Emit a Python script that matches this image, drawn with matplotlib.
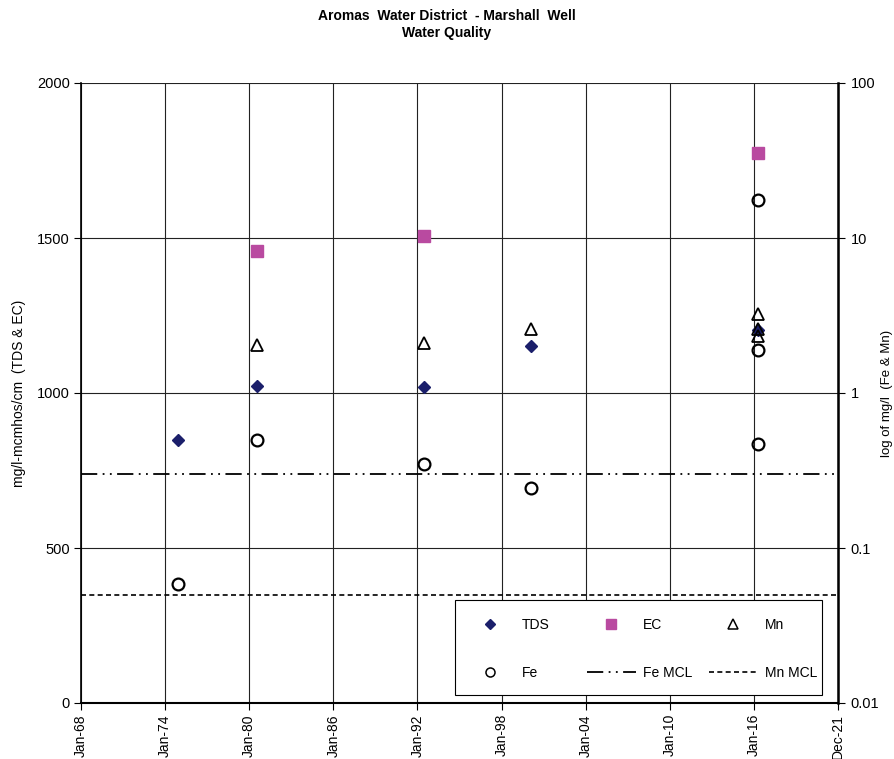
import datetime as dt
import matplotlib
matplotlib.use("Agg")
import matplotlib.pyplot as plt
import matplotlib.dates as mdates
from matplotlib.ticker import FixedLocator, FuncFormatter, NullLocator
from matplotlib.lines import Line2D
from matplotlib.patches import Rectangle

plt.rcParams['font.family'] = ['Liberation Sans', 'DejaVu Sans']

# ---- data ----
tds_dates = ["1974-12-01", "1980-08-01", "1992-06-15", "2000-02-15", "2016-04-15"]
tds_vals = [848, 1023, 1019, 1152, 1203]

ec_dates = ["1980-08-01", "1992-06-15", "2016-04-15"]
ec_vals = [1458, 1506, 1774]

mn_dates = ["1980-08-01", "1992-06-15", "2000-02-15", "2016-04-15", "2016-04-15", "2016-04-15"]
mn_vals = [2.04, 2.10, 2.59, 3.23, 2.60, 2.33]

fe_dates = ["1974-12-01", "1980-08-01", "1992-06-15", "2000-02-15", "2016-04-15", "2016-04-15", "2016-04-15"]
fe_vals = [0.059, 0.50, 0.348, 0.244, 17.6, 1.89, 0.469]

fe_mcl = 0.3
mn_mcl = 0.05

tick_dates = ["1968-01-01", "1974-01-01", "1980-01-01", "1986-01-01", "1992-01-01",
              "1998-01-01", "2004-01-01", "2010-01-01", "2016-01-01", "2021-12-31"]
tick_labels = ["Jan-68", "Jan-74", "Jan-80", "Jan-86", "Jan-92",
               "Jan-98", "Jan-04", "Jan-10", "Jan-16", "Dec-21"]

def d(s):
    return dt.datetime.strptime(s, "%Y-%m-%d")

fig = plt.figure(figsize=(8.94, 7.59), dpi=100)
ax = fig.add_axes([81/894, 56/759, 757/894, 620/759])
ax2 = ax.twinx()

xmin, xmax = d(tick_dates[0]), d(tick_dates[-1])
ax.set_xlim(xmin, xmax)
ax.set_ylim(0, 2000)
ax2.set_ylim(0.01, 100)
ax2.set_yscale('log')

# grid
ax.set_yticks([0, 500, 1000, 1500, 2000])
ax.set_xticks([mdates.date2num(d(t)) for t in tick_dates])
ax.set_xticklabels(tick_labels, rotation=90, fontsize=10)
ax.grid(True, color='#222222', linewidth=0.8)
ax.set_axisbelow(True)
ax.tick_params(axis='y', labelsize=10.5, direction='out', length=5, width=0.8, pad=3)
ax.tick_params(axis='x', direction='out', length=5, width=0.8, pad=3)

ax2.yaxis.set_major_locator(FixedLocator([0.01, 0.1, 1, 10, 100]))
ax2.yaxis.set_minor_locator(NullLocator())
ax2.yaxis.set_major_formatter(FuncFormatter(lambda v, p: f"{v:g}"))
ax2.tick_params(axis='y', labelsize=10.5, direction='out', length=5, width=0.8, pad=4)

for a in (ax, ax2):
    a.spines['top'].set_visible(False)
ax.spines['left'].set_linewidth(1.2)
ax.spines['bottom'].set_linewidth(1.5)
ax2.spines['right'].set_linewidth(1.8)
ax2.spines['left'].set_visible(False)
ax2.spines['bottom'].set_visible(False)

# MCL lines
femcl_ls = (0, (9, 3, 1, 3, 1, 3))
mnmcl_ls = (0, (3, 2))
ax2.plot([xmin, xmax], [fe_mcl, fe_mcl], color='black', lw=1.3,
         linestyle=femcl_ls, zorder=2)
ax2.plot([xmin, xmax], [mn_mcl, mn_mcl], color='black', lw=1.2,
         linestyle=mnmcl_ls, zorder=2)

# data
ax.plot([d(s) for s in tds_dates], tds_vals, linestyle='none', marker='D',
        markersize=6.5, color='#1b1f6b', zorder=5)
ax.plot([d(s) for s in ec_dates], ec_vals, linestyle='none', marker='s',
        markersize=8, color='#b94aa0', zorder=5)
ax2.plot([d(s) for s in mn_dates], mn_vals, linestyle='none', marker='^',
         markersize=8, markerfacecolor='none', markeredgecolor='black',
         markeredgewidth=1.3, zorder=5)
ax2.plot([d(s) for s in fe_dates], fe_vals, linestyle='none', marker='o',
         markersize=8.5, markerfacecolor='none', markeredgecolor='black',
         markeredgewidth=1.6, zorder=5)

ax.set_ylabel("mg/l-mcmhos/cm  (TDS & EC)", fontsize=10, labelpad=8)
ax2.set_ylabel("log of mg/l  (Fe & Mn)", fontsize=9.5, labelpad=1)

fig.text(0.5, 0.988, "Aromas  Water District  - Marshall  Well\nWater Quality",
         ha='center', va='top', fontsize=10, fontweight='bold', linespacing=1.3)

# legend: frame + three equal-width columns
frame = Rectangle((0.494, 0.013), 0.485, 0.153, transform=ax2.transAxes,
                  facecolor='white', edgecolor='black', linewidth=0.8, zorder=6)
ax2.add_patch(frame)

h_tds = Line2D([], [], linestyle='none', marker='D', markersize=5.5, color='#1b1f6b')
h_ec = Line2D([], [], linestyle='none', marker='s', markersize=7, color='#b94aa0')
h_mn = Line2D([], [], linestyle='none', marker='^', markersize=6.5,
              markerfacecolor='none', markeredgecolor='black', markeredgewidth=1.1)
h_fe = Line2D([], [], linestyle='none', marker='o', markersize=6.5,
              markerfacecolor='none', markeredgecolor='black', markeredgewidth=1.1)
h_femcl = Line2D([], [], color='black', lw=1.3, linestyle=femcl_ls)
h_mnmcl = Line2D([], [], color='black', lw=1.2, linestyle=mnmcl_ls)

columns = [([h_tds, h_fe], ["TDS", "Fe"], 0.5086),
           ([h_ec, h_femcl], ["EC", "Fe MCL"], 0.6684),
           ([h_mn, h_mnmcl], ["Mn", "Mn MCL"], 0.8296)]
legs = []
for hs, labs, x0 in columns:
    lg = ax2.legend(hs, labs, loc='upper left', bbox_to_anchor=(x0, 0.137),
                    fontsize=10, frameon=False, handlelength=3.5,
                    handletextpad=0.5, labelspacing=2.45, borderaxespad=0,
                    borderpad=0)
    lg.set_zorder(7)
    legs.append(lg)
for lg in legs[:-1]:
    ax2.add_artist(lg)

fig.savefig("out.png", dpi=100)
